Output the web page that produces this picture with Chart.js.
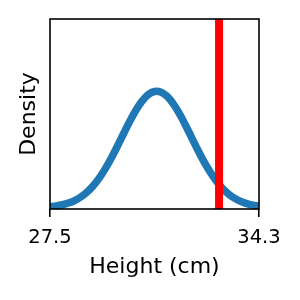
<!DOCTYPE html>
<html>
<head>
<meta charset="utf-8">
<script src="https://cdn.jsdelivr.net/npm/chart.js@4"></script>
<style>
  html, body { margin: 0; padding: 0; background: #fff; }
  #wrap { width: 300px; height: 300px; }
</style>
</head>
<body>
<div id="wrap"><canvas id="chart" width="300" height="300"></canvas></div>
<script>
// values
const heights = [27.5, 27.7, 27.9, 28.1, 28.3, 28.5, 28.7, 28.9, 29.1, 29.3, 29.5, 29.7,
  29.9, 30.1, 30.3, 30.5, 30.7, 30.9, 31.1, 31.3, 31.5, 31.7, 31.9, 32.1, 32.3, 32.5,
  32.7, 32.9, 33.1, 33.3, 33.5, 33.7, 33.9, 34.1, 34.3];
const density = [0.0032, 0.0054, 0.0088, 0.0140, 0.0217, 0.0324, 0.0469, 0.0659, 0.0898,
  0.1185, 0.1515, 0.1877, 0.2255, 0.2625, 0.2961, 0.3237, 0.3431, 0.3523, 0.3507, 0.3383,
  0.3162, 0.2865, 0.2516, 0.2141, 0.1766, 0.1412, 0.1094, 0.0821, 0.0597, 0.0421, 0.0288,
  0.0191, 0.0122, 0.0076, 0.0046];
const markerX = 33.0;
const xTicks = [27.5, 34.3];
const yMin = -0.004;
const yMax = 0.572;

const tickFont = { family: 'DejaVu Sans', size: 19.5 };
const titleFont = { family: 'DejaVu Sans', size: 22 };

// box round the plot area, like the matplotlib spines
const frame = {
  id: 'frame',
  afterDatasetsDraw(chart) {
    const a = chart.chartArea;
    const c = chart.ctx;
    c.save();
    c.strokeStyle = '#000';
    c.lineWidth = 1.6;
    c.strokeRect(a.left, a.top, a.right - a.left, a.bottom - a.top);
    c.restore();
  }
};

const ctx = document.getElementById('chart');

new Chart(ctx, {
  type: 'line',
  data: {
    datasets: [
      {
        label: 'marker',
        data: [{ x: markerX, y: yMin }, { x: markerX, y: yMax }],
        borderColor: '#ff0000',
        borderWidth: 8,
        pointRadius: 0,
        clip: 0,
        order: 0
      },
      {
        label: 'density',
        data: heights.map((h, i) => ({ x: h, y: density[i] })),
        borderColor: '#1f77b4',
        borderWidth: 7.5,
        pointRadius: 0,
        tension: 0.4,
        clip: 0,
        order: 1
      }
    ]
  },
  options: {
    responsive: false,
    animation: false,
    events: [],
    layout: { padding: { top: 19, right: 41, left: 0, bottom: 0 } },
    plugins: { legend: { display: false }, tooltip: { enabled: false } },
    scales: {
      x: {
        type: 'linear',
        min: 27.5,
        max: 34.3,
        afterBuildTicks: (scale) => { scale.ticks = xTicks.map(v => ({ value: v })); },
        afterFit: (scale) => { scale.height = 91; },
        ticks: {
          color: '#000',
          font: tickFont,
          padding: 9,
          maxRotation: 0,
          callback: (v) => v.toFixed(1)
        },
        grid: {
          drawOnChartArea: false,
          drawTicks: true,
          tickLength: 8,
          color: '#000',
          lineWidth: 1.6
        },
        border: { display: false },
        title: {
          display: true,
          text: 'Height (cm)',
          color: '#000',
          font: titleFont,
          padding: { top: 0, bottom: 20 }
        }
      },
      y: {
        min: yMin,
        max: yMax,
        afterFit: (scale) => { scale.width = 50; },
        ticks: { display: false },
        grid: { display: false },
        border: { display: false },
        title: {
          display: true,
          text: 'Density',
          color: '#000',
          font: titleFont,
          padding: { top: 16, bottom: 0 }
        }
      }
    }
  },
  plugins: [frame]
});
</script>
</body>
</html>
